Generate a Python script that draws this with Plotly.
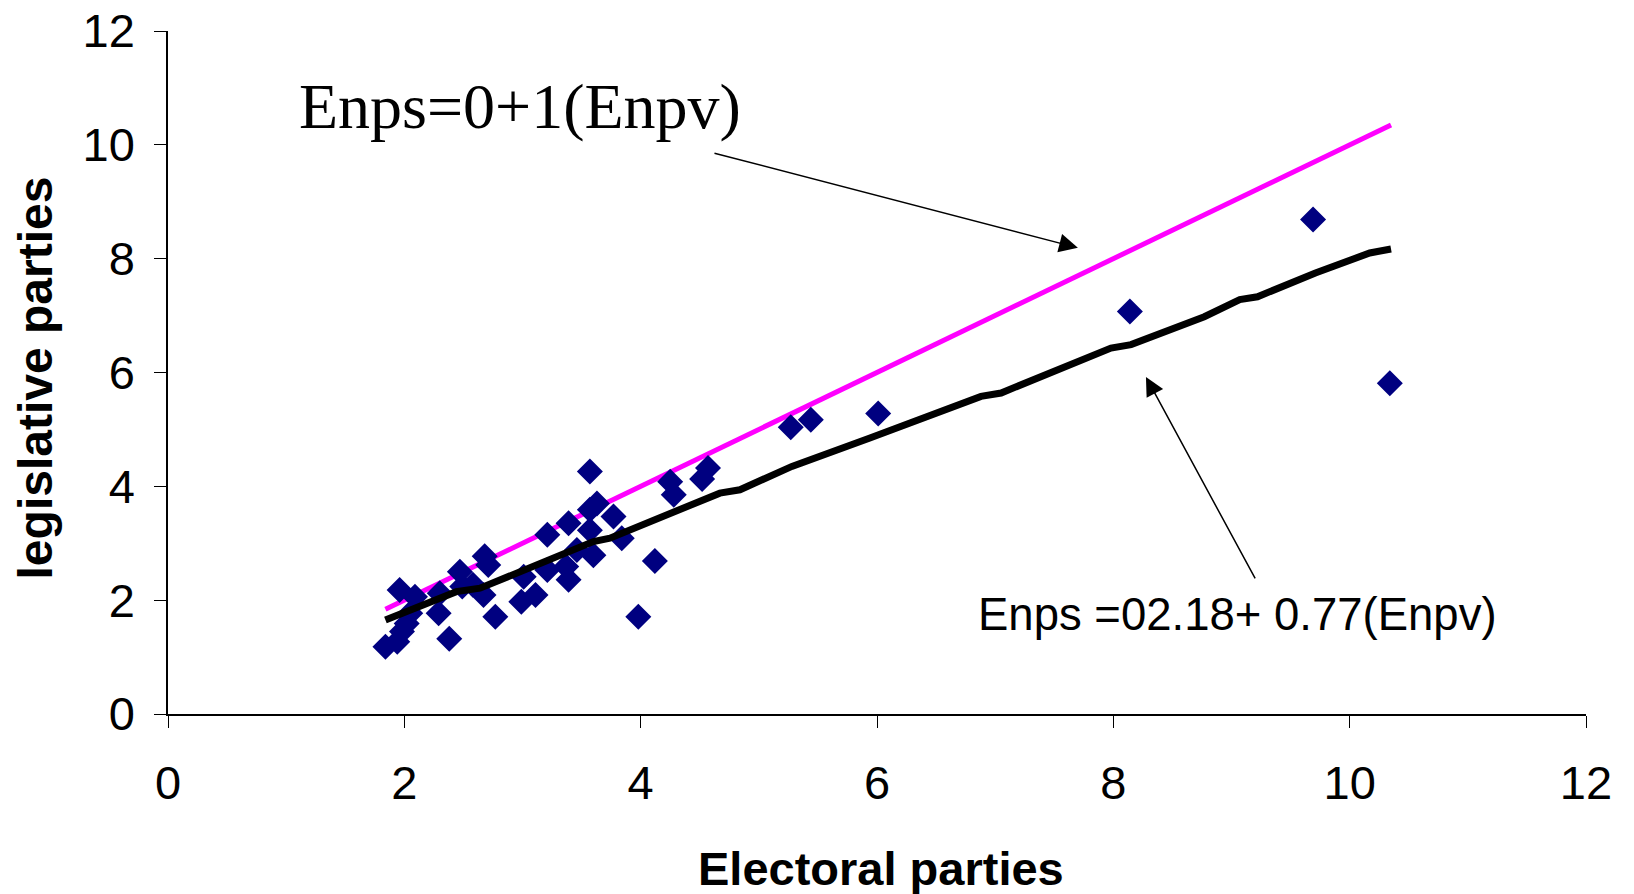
import plotly.graph_objects as go

# Scatter data: electoral (Enpv) vs legislative (Enps) effective number of parties
enpv = [1.84, 1.94, 1.98, 1.96, 2.09, 2.05, 2.02, 2.30, 2.29, 2.38, 2.47, 2.49, 2.58,
        2.71, 2.68, 2.67, 2.77, 3.01, 2.99, 3.11, 3.21, 3.21, 3.39, 3.37, 3.39, 3.57,
        3.63, 3.77, 3.84, 3.57, 3.60, 3.46, 3.57, 4.12, 3.98, 4.25, 4.28, 4.52, 4.57,
        5.27, 5.44, 6.01, 8.14, 9.69, 10.34]
enps = [1.18, 1.27, 1.45, 2.18, 2.06, 1.77, 1.59, 2.12, 1.77, 1.32, 2.50, 2.24, 2.27,
        2.62, 2.77, 2.09, 1.71, 2.41, 1.97, 2.09, 2.53, 3.15, 3.35, 2.59, 2.36, 3.59,
        3.70, 3.47, 3.09, 3.23, 2.79, 2.88, 4.26, 2.69, 1.71, 4.08, 3.85, 4.13, 4.32,
        5.04, 5.17, 5.28, 7.07, 8.69, 5.81]

# Equality line Enps = 0 + 1(Enpv)
eq_x = [1.84, 10.35]
eq_y = [1.84, 10.35]

# Fitted line
fit_x = [1.84, 2.44, 2.64, 3.32, 3.60, 3.74, 4.67, 4.84, 5.28, 5.94, 6.39, 6.88, 7.05,
         7.67, 7.98, 8.15, 8.77, 9.07, 9.22, 9.71, 10.17, 10.35]
fit_y = [1.65, 2.15, 2.21, 2.79, 3.03, 3.09, 3.88, 3.94, 4.35, 4.85, 5.20, 5.58, 5.64,
         6.16, 6.43, 6.49, 6.98, 7.28, 7.33, 7.75, 8.10, 8.17]

tick_vals = [0, 2, 4, 6, 8, 10, 12]
x_title = "Electoral parties"
y_title = "legislative parties"
label_eq = "Enps=0+1(Enpv)"
label_fit = "Enps =02.18+ 0.77(Enpv)"

fig = go.Figure()
fig.add_trace(go.Scatter(x=eq_x, y=eq_y, mode="lines",
                         line=dict(color="#FF00FF", width=5), showlegend=False))
fig.add_trace(go.Scatter(x=enpv, y=enps, mode="markers",
                         marker=dict(symbol="diamond", size=20, color="#000080",
                                     line=dict(width=0)), showlegend=False))
fig.add_trace(go.Scatter(x=fit_x, y=fit_y, mode="lines",
                         line=dict(color="black", width=7), showlegend=False))

axis_common = dict(range=[0, 12], tickvals=tick_vals, showgrid=False, zeroline=False,
                   showline=True, linecolor="black", linewidth=1.5, automargin=False,
                   ticks="outside", ticklen=12, tickcolor="black", tickwidth=1,
                   tickfont=dict(family="Liberation Sans, Arial, sans-serif", size=47,
                                 color="black"))
fig.update_xaxes(**axis_common, ticklabelstandoff=15)
fig.update_yaxes(**axis_common, ticklabelstandoff=10)

fig.update_layout(
    width=1634, height=894, autosize=False,
    margin=dict(l=168, r=48, t=31, b=180),
    plot_bgcolor="white", paper_bgcolor="white",
    annotations=[
        dict(text=y_title, xref="paper", yref="paper", x=-0.0931, y=0.4927,
             textangle=-90, showarrow=False, xanchor="center", yanchor="middle",
             font=dict(family="Liberation Sans, Arial, sans-serif", size=48,
                       color="black", weight="bold")),
        dict(text=x_title, xref="paper", yref="paper", x=0.503, y=-0.2255,
             showarrow=False, xanchor="center", yanchor="middle",
             font=dict(family="Liberation Sans, Arial, sans-serif", size=47,
                       color="black", weight="bold")),
        dict(text=label_eq, xref="x", yref="y", x=2.975, y=10.67, showarrow=False,
             xanchor="center", yanchor="middle",
             font=dict(family="Liberation Serif, Times New Roman, serif", size=64,
                       color="black")),
        dict(text=label_fit, xref="x", yref="y", x=9.05, y=1.74, showarrow=False,
             xanchor="center", yanchor="middle",
             font=dict(family="Liberation Sans, Arial, sans-serif", size=45.5,
                       color="black")),
        dict(text="", xref="x", yref="y", x=7.70, y=8.19, axref="x", ayref="y",
             ax=4.612, ay=9.86, showarrow=True, arrowhead=2, arrowsize=2.5,
             arrowwidth=1.5, arrowcolor="black"),
        dict(text="", xref="x", yref="y", x=8.276, y=5.923, axref="x", ayref="y",
             ax=9.207, ay=2.355, showarrow=True, arrowhead=2, arrowsize=2.5,
             arrowwidth=1.5, arrowcolor="black"),
    ],
)

fig.write_html("out.html")
